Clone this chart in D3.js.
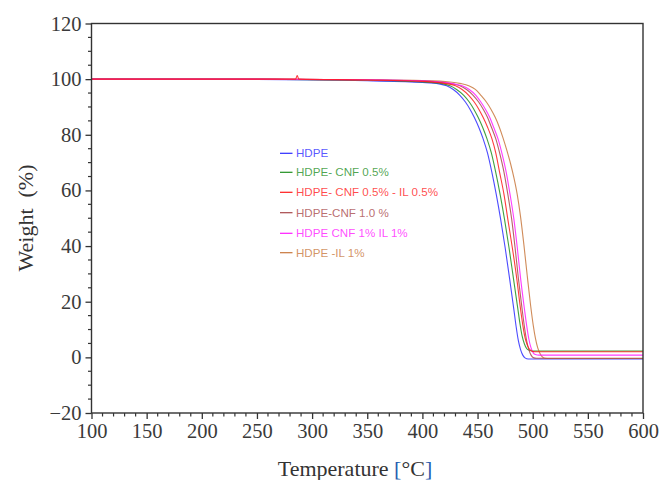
<!DOCTYPE html>
<html>
<head>
<meta charset="utf-8">
<script src="https://cdn.jsdelivr.net/npm/d3@7"></script>
<style>
  html, body { margin: 0; padding: 0; background: #fff; }
  svg { display: block; }
</style>
</head>
<body>
<svg id="chart" width="662" height="480"></svg>
<script>
// ---- Data ----
const seriesNames = ["HDPE", "HDPE- CNF 0.5%", "HDPE- CNF 0.5% - IL 0.5%", "HDPE-CNF 1.0 %", "HDPE CNF 1% IL 1%", "HDPE -IL 1%"];
const seriesColors = ["#2b2bff", "#1f8f1f", "#ff1a1a", "#a8484a", "#ff1aff", "#c8773c"];

// [temperature °C, weight %]
const hdpe = [[100,100],[250,99.9],[350,99.4],[400,98.8],[415,98.3],[422,97.6],[428,96.3],[434,94.2],[439,91.8],[443,89.3],[447,86.3],[451,82.8],[455,78.6],[459,73.5],[463,66.5],[467,58.5],[471,49.5],[475,39.5],[479,28.5],[483,17],[485,11],[487,6],[489,2.8],[491,0.8],[493,-0.2],[496,-0.6],[600,-0.6]];
const hdpeCnf05 = [[100,100],[250,99.9],[350,99.6],[400,99.0],[418,98.4],[425,97.6],[431,96.3],[437.5,94.2],[442.5,91.8],[446.5,89.3],[450.5,86.3],[454.5,82.8],[458.5,78.6],[462.5,73.5],[466.5,66.5],[470.5,58.5],[474.5,49.5],[478.5,39.5],[482.5,28.5],[486.5,17.5],[488.5,12],[490.5,7.5],[492.5,4.8],[494.5,3.2],[496.5,2.6],[499.5,2.3],[600,2.3]];
const hdpeCnf05Il05 = [[100,100],[250,100],[285,100],[286.5,101.3],[288,100],[350,99.7],[400,99.2],[423,98.3],[430,97.6],[436,96.3],[442,94.2],[447,91.8],[451,89.3],[455,86.3],[459,82.8],[463,78.6],[466.5,73.5],[470,66.5],[474,58.5],[477.5,49.5],[481.5,39.5],[485.5,28.5],[489,17.3],[491,11.7],[493,7.2],[495,4.5],[497,3.0],[499,2.3],[502,2.0],[600,2.0]];
const hdpeCnf10 = [[100,100],[250,100],[350,99.7],[400,99.3],[427,98.3],[434,97.6],[440,96.3],[446,94.2],[451,91.8],[455,89.3],[459,86.3],[462.5,82.8],[466.5,78.6],[470,73.5],[474,66.5],[477.5,58.5],[481,49.5],[484,39.5],[487,28.5],[490.5,17],[492.5,11],[494.5,6],[496.5,2.8],[498.5,0.8],[500.5,-0.1],[503.5,-0.3],[600,-0.3]];
const hdpeCnf1Il1 = [[100,100],[250,100],[350,99.8],[400,99.4],[429,98.3],[436,97.6],[442.5,96.3],[448.5,94.2],[453,91.8],[457,89.3],[461,86.3],[464.5,82.8],[468.5,78.6],[472,73.5],[476,66.5],[479.5,58.5],[483,49.5],[486,39.5],[489,28.5],[492.5,17.4],[494.5,11.5],[496.5,6.6],[498.5,3.4],[500.5,1.6],[502.5,1.0],[505.5,0.8],[600,0.8]];
const hdpeIl1 = [[100,100],[250,100],[350,99.8],[400,99.5],[425,99.0],[435,98.4],[442,97.6],[448,96.3],[453,94.2],[458,91.8],[462,89.3],[466,86.3],[469.5,83.0],[473,79.0],[476.5,74.5],[480,69.5],[483,64.5],[486,58.5],[489,50.5],[492,40.5],[495,29.5],[498,19],[500.5,11.5],[502.5,6.8],[504.5,3.5],[506.5,1.5],[508.5,0.3],[511,-0.3],[515,-0.4],[600,-0.4]];

const seriesData = [hdpe, hdpeCnf05, hdpeCnf05Il05, hdpeCnf10, hdpeCnf1Il1, hdpeIl1];
const drawOrder = [0, 1, 5, 3, 4, 2];

const xTicks = [100,150,200,250,300,350,400,450,500,550,600];
const yTicks = [-20,0,20,40,60,80,100,120];

// ---- Layout ----
const svg = d3.select("#chart");
const mLeft = 91.5, mRight = 643, mTop = 23.5, mBottom = 413;
const x = d3.scaleLinear().domain([100, 600]).range([mLeft, mRight]);
const y = d3.scaleLinear().domain([-20, 120]).range([mBottom, mTop]);

const axisColor = "#333";
const serif = "'Liberation Serif', 'Times New Roman', serif";

// curves
const line = d3.line().x(d => x(d[0])).y(d => y(d[1])).curve(d3.curveMonotoneX);
const plot = svg.append("g");
drawOrder.forEach(i => {
  plot.append("path")
    .datum(seriesData[i])
    .attr("fill", "none")
    .attr("stroke", seriesColors[i])
    .attr("stroke-width", 1.1)
    .attr("stroke-opacity", 0.85)
    .attr("d", line);
});

// frame
svg.append("rect")
  .attr("x", mLeft).attr("y", mTop)
  .attr("width", mRight - mLeft).attr("height", mBottom - mTop)
  .attr("fill", "none").attr("stroke", axisColor).attr("stroke-width", 1.4);

// bottom axis
const xAxis = d3.axisBottom(x).tickValues(xTicks).tickSize(6).tickPadding(4).tickFormat(d3.format("d"));
const gx = svg.append("g").attr("transform", `translate(0,${mBottom})`).call(xAxis);
const xMinor = d3.range(100, 601, 10).filter(v => v % 50 !== 0);
gx.selectAll(".minor").data(xMinor).enter().append("line")
  .attr("class", "minor")
  .attr("x1", d => x(d)).attr("x2", d => x(d))
  .attr("y1", 0).attr("y2", 3.5)
  .attr("stroke", axisColor).attr("stroke-width", 1.2);

// left axis
const yAxis = d3.axisLeft(y).tickValues(yTicks).tickSize(6).tickPadding(4).tickFormat(d3.format("d"));
const gy = svg.append("g").attr("transform", `translate(${mLeft},0)`).call(yAxis);
const yMinor = d3.range(-20, 121, 5).filter(v => v % 20 !== 0);
gy.selectAll(".minor").data(yMinor).enter().append("line")
  .attr("class", "minor")
  .attr("x1", 0).attr("x2", -3.5)
  .attr("y1", d => y(d)).attr("y2", d => y(d))
  .attr("stroke", axisColor).attr("stroke-width", 1.2);

[gx, gy].forEach(g => {
  g.select(".domain").remove();
  g.selectAll(".tick line").attr("stroke", axisColor).attr("stroke-width", 1.3);
  g.selectAll(".tick text").attr("fill", "#3a3a3a").style("font-family", serif).style("font-size", "20.5px");
});

// axis titles
const xt = svg.append("text")
  .attr("x", 355).attr("y", 476)
  .attr("text-anchor", "middle")
  .style("font-family", serif).style("font-size", "22px").attr("fill", "#333");
xt.append("tspan").text("Temperature ");
xt.append("tspan").attr("fill", "#2a5fb0").text("[");
xt.append("tspan").text("°C");
xt.append("tspan").attr("fill", "#2a5fb0").text("]");

svg.append("text")
  .attr("transform", "translate(33,218) rotate(-90)")
  .attr("text-anchor", "middle")
  .style("font-family", serif).style("font-size", "22px").attr("fill", "#333")
  .style("white-space", "pre")
  .text("Weight  (%)");

// legend
const legendRows = [153.3, 172.3, 192.3, 212.7, 233.3, 252.7];
const lg = svg.append("g");
seriesNames.forEach((name, i) => {
  const yy = legendRows[i];
  lg.append("line").attr("x1", 280).attr("x2", 292.5).attr("y1", yy).attr("y2", yy)
    .attr("stroke", seriesColors[i]).attr("stroke-width", 1.2);
  lg.append("text").attr("x", 296).attr("y", yy + 4)
    .style("font-family", "'Liberation Sans', Arial, sans-serif").style("font-size", "11.6px")
    .attr("fill", seriesColors[i]).attr("fill-opacity", 0.8)
    .text(name);
});
</script>
</body>
</html>
